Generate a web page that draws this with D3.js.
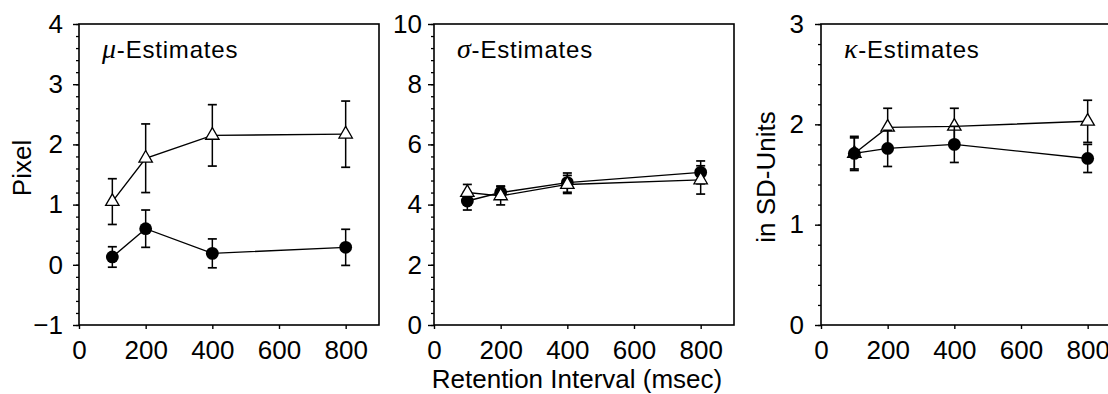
<!DOCTYPE html>
<html>
<head>
<meta charset="utf-8">
<style>
  body { margin: 0; background: #fff; }
  svg text { font-family: "Liberation Sans", Arial, Helvetica, sans-serif; fill: #000; }
  .greek { font-family: "Liberation Serif", "Times New Roman", serif; font-style: italic; }
</style>
</head>
<body>
<script src="https://cdn.jsdelivr.net/npm/d3@7"></script>
<script>
// retention intervals (msec)
var intervals = [100, 200, 400, 800];
var xTicks = [0, 200, 400, 600, 800];

// mu estimates (pixel)
var muOpen = [1.05, 1.77, 2.15, 2.17];
var muOpenErr = [0.38, 0.57, 0.51, 0.55];
var muFilled = [0.13, 0.60, 0.19, 0.29];
var muFilledErr = [0.17, 0.31, 0.24, 0.30];
var muTicks = [-1, 0, 1, 2, 3, 4];

// sigma estimates (pixel)
var sigmaOpen = [4.40, 4.29, 4.67, 4.82];
var sigmaOpenErr = [0.27, 0.30, 0.30, 0.47];
var sigmaFilled = [4.12, 4.40, 4.73, 5.07];
var sigmaFilledErr = [0.30, 0.22, 0.32, 0.38];
var sigmaTicks = [0, 2, 4, 6, 8, 10];

// kappa estimates (SD units)
var kappaOpen = [1.71, 1.97, 1.98, 2.03];
var kappaOpenErr = [0.17, 0.19, 0.18, 0.21];
var kappaFilled = [1.71, 1.76, 1.80, 1.66];
var kappaFilledErr = [0.155, 0.18, 0.18, 0.14];
var kappaTicks = [0, 1, 2, 3];

var width = 1108, height = 394;
var top_ = 24, bottom = 325;

var svg = d3.select("body").append("svg")
    .attr("width", width)
    .attr("height", height);

var panels = [
    { left: 79, greek: "\u03bc", ticks: muTicks, minor: 0.2, pad: 10,
      open: muOpen, openErr: muOpenErr, filled: muFilled, filledErr: muFilledErr,
      ylabel: "Pixel", ylabelX: 31, ylabelY: 168, openOnTop: true },
    { left: 434, greek: "\u03c3", ticks: sigmaTicks, minor: 0.4, pad: 6,
      open: sigmaOpen, openErr: sigmaOpenErr, filled: sigmaFilled, filledErr: sigmaFilledErr,
      openOnTop: true },
    { left: 821, greek: "\u03ba", ticks: kappaTicks, minor: 0.2, pad: 11,
      open: kappaOpen, openErr: kappaOpenErr, filled: kappaFilled, filledErr: kappaFilledErr,
      ylabel: "in SD-Units", ylabelX: 775, ylabelY: 177, openOnTop: false }
];

panels.forEach(drawPanel);

svg.append("text")
    .attr("x", 577)
    .attr("y", 388)
    .attr("text-anchor", "middle")
    .style("font-size", "26px")
    .text("Retention Interval (msec)");

function drawPanel(p) {
    var x = d3.scaleLinear().domain([0, 900]).range([p.left, p.left + 300]);
    var lo = p.ticks[0], hi = p.ticks[p.ticks.length - 1];
    var y = d3.scaleLinear().domain([lo, hi]).range([bottom, top_]);
    var g = svg.append("g");

    // minor ticks
    var minorVals = d3.range(0, Math.round((hi - lo) / p.minor) + 1).map(function (i) { return lo + i * p.minor; });
    g.append("g")
        .attr("transform", "translate(" + p.left + ",0)")
        .call(d3.axisLeft(y).tickValues(minorVals).tickSize(3).tickFormat(""))
        .call(function (a) { a.select(".domain").remove(); a.selectAll("line").attr("stroke-width", 1.3); });

    // major ticks + labels
    g.append("g")
        .attr("transform", "translate(" + p.left + ",0)")
        .call(d3.axisLeft(y).tickValues(p.ticks).tickSize(6).tickPadding(p.pad).tickFormat(d3.format("d")))
        .call(function (a) {
            a.select(".domain").remove();
            a.selectAll("line").attr("stroke-width", 1.4);
            a.selectAll("text").style("font-size", "26px").attr("font-family", null);
        });

    g.append("g")
        .attr("transform", "translate(0," + bottom + ")")
        .call(d3.axisBottom(x).tickValues(xTicks).tickSize(4).tickPadding(12))
        .call(function (a) {
            a.select(".domain").remove();
            a.selectAll("line").attr("stroke-width", 1.4);
            a.selectAll("text").style("font-size", "26px").attr("font-family", null);
        });

    // frame
    g.append("rect")
        .attr("x", x(0)).attr("y", top_)
        .attr("width", x(900) - x(0)).attr("height", bottom - top_)
        .attr("fill", "none").attr("stroke", "#000").attr("stroke-width", 1.6);

    // title
    var t = g.append("text")
        .attr("x", p.left + 23)
        .attr("y", 58)
        .style("font-size", "24px")
        .style("letter-spacing", "0.8px");
    t.append("tspan").attr("class", "greek").style("font-size", "28px").text(p.greek);
    t.append("tspan").text("-Estimates");

    if (p.ylabel) {
        g.append("text")
            .attr("transform", "translate(" + p.ylabelX + "," + p.ylabelY + ") rotate(-90)")
            .attr("text-anchor", "middle")
            .style("font-size", "26px")
            .text(p.ylabel);
    }

    var series = [
        { vals: p.filled, err: p.filledErr, kind: "circle" },
        { vals: p.open, err: p.openErr, kind: "triangle" }
    ];
    if (!p.openOnTop) series.reverse();

    var line = d3.line().x(function (d) { return x(d.t); }).y(function (d) { return y(d.v); });

    series.forEach(function (s) {
        var pts = intervals.map(function (t, i) { return { t: t, v: s.vals[i], e: s.err[i] }; });
        var sg = g.append("g");
        sg.append("path")
            .datum(pts)
            .attr("d", line)
            .attr("fill", "none")
            .attr("stroke", "#000")
            .attr("stroke-width", 1.4);

        var eb = sg.selectAll(".err").data(pts).enter().append("g");
        eb.append("line")
            .attr("x1", function (d) { return x(d.t); }).attr("x2", function (d) { return x(d.t); })
            .attr("y1", function (d) { return y(d.v - d.e); }).attr("y2", function (d) { return y(d.v + d.e); })
            .attr("stroke", "#000").attr("stroke-width", 1.5);
        [-1, 1].forEach(function (sign) {
            eb.append("line")
                .attr("x1", function (d) { return x(d.t) - 4.5; }).attr("x2", function (d) { return x(d.t) + 4.5; })
                .attr("y1", function (d) { return y(d.v + sign * d.e); }).attr("y2", function (d) { return y(d.v + sign * d.e); })
                .attr("stroke", "#000").attr("stroke-width", 1.7);
        });

        if (s.kind === "circle") {
            sg.selectAll(".pt").data(pts).enter().append("circle")
                .attr("cx", function (d) { return x(d.t); })
                .attr("cy", function (d) { return y(d.v); })
                .attr("r", 6.4)
                .attr("fill", "#000");
        } else {
            sg.selectAll(".pt").data(pts).enter().append("path")
                .attr("d", d3.symbol().type(d3.symbolTriangle).size(78))
                .attr("transform", function (d) { return "translate(" + x(d.t) + "," + y(d.v) + ")"; })
                .attr("fill", "#fff")
                .attr("stroke", "#000")
                .attr("stroke-width", 1.3);
        }
    });
}
</script>
</body>
</html>
